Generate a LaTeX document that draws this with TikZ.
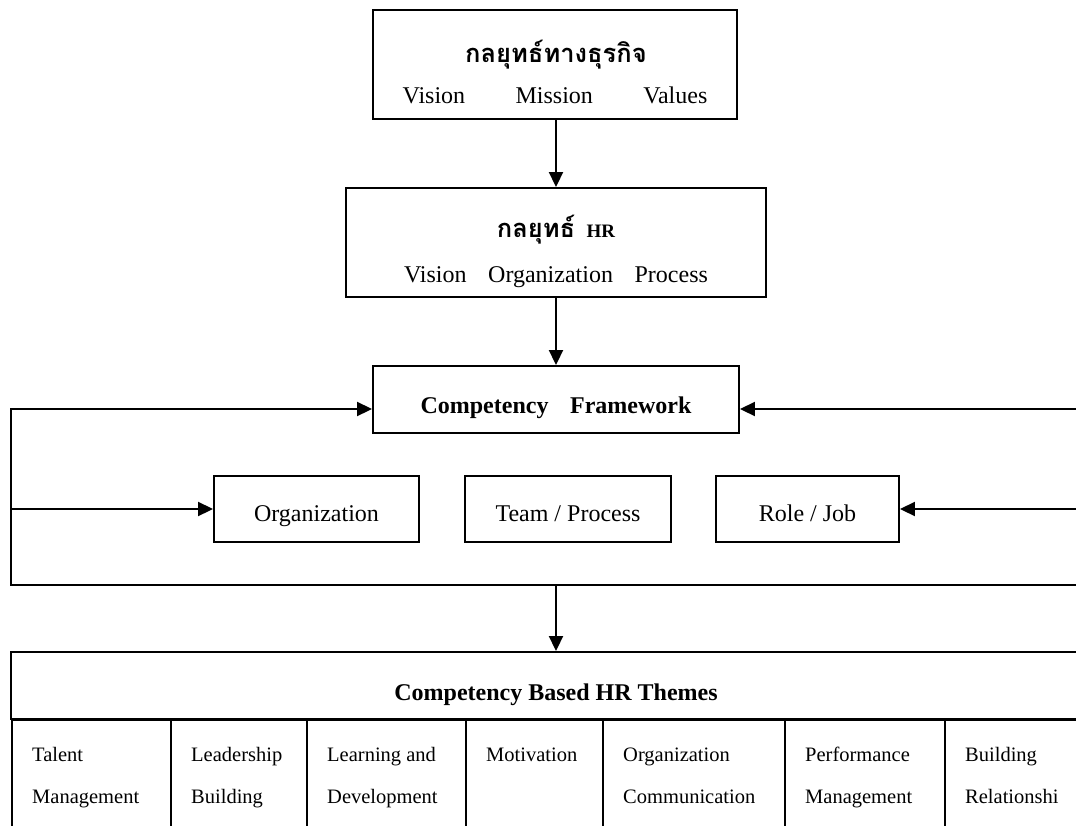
\documentclass[tikz,border=0pt]{standalone}
\usepackage{fontspec}
\setmainfont{Liberation Serif}
\newfontfamily\thaifont[Script=Thai]{Loma}
\usetikzlibrary{arrows.meta}

\begin{document}
\begin{tikzpicture}[x=1pt,y=-1pt,
  box/.style={draw, rectangle, inner sep=0pt, line width=1.9pt},
  arr/.style={-{Triangle[length=15pt,width=14pt]}, line width=1.9pt},
  txt/.style={inner sep=0pt, anchor=base, font=\fontsize{24}{28}\selectfont},
  boldtxt/.style={inner sep=0pt, anchor=base, font=\fontsize{24}{28}\selectfont\bfseries},
  thai/.style={inner sep=0pt, anchor=base, font=\thaifont\bfseries\fontsize{25.5}{30}\selectfont},
  celltxt/.style={inner sep=0pt, anchor=base west, font=\fontsize{20.5}{24}\selectfont}]
\useasboundingbox (0,0) rectangle (1076,825);
\clip (0,0) rectangle (1076,825);

% strategy boxes
\node[box, minimum width=364pt, minimum height=109pt] (biz) at (555,64.5) {};
\node[thai] (bizT) at (556,62) {กลยุทธ์ทางธุรกิจ};
\node[txt] (bizS) at (555,103) {Vision\hspace{2.1em}Mission\hspace{2.1em}Values};

\node[box, minimum width=420pt, minimum height=109pt] (hr) at (556,242.5) {};
\node[thai] (hrT) at (556,237) {กลยุทธ์\hspace{0.45em}{\rmfamily\bfseries\fontsize{19}{22}\selectfont HR}};
\node[txt] (hrS) at (556,282) {Vision\hspace{0.9em}Organization\hspace{0.9em}Process};

% competency framework and its three levels
\node[box, minimum width=366pt, minimum height=67pt] (cf) at (556,399.5) {};
\node[boldtxt] (cfT) at (556,413) {Competency\hspace{0.9em}Framework};

\node[box, minimum width=205pt, minimum height=66pt] (org) at (316.5,509) {};
\node[txt] (orgT) at (316.5,521) {Organization};
\node[box, minimum width=206pt, minimum height=66pt] (team) at (568,509) {};
\node[txt] (teamT) at (568,521) {Team / Process};
\node[box, minimum width=183pt, minimum height=66pt] (role) at (807.5,509) {};
\node[txt] (roleT) at (807.5,521) {Role / Job};

% HR themes table
\node[box, minimum width=1088pt, minimum height=67pt] (themes) at (555,685.5) {};
\node[boldtxt] (themesT) at (556,700) {Competency Based HR Themes};

\foreach \i/\xa/\xb/\la/\lb in {
  1/11/170/Talent/Management,
  2/170/306/Leadership/Building,
  3/306/465/Learning and/Development,
  4/465/602/Motivation/,
  5/602/784/Organization/Communication,
  6/784/944/Performance/Management,
  7/944/1099/Building/Relationshi}{
  \node[box, anchor=north west, minimum width={\xb-\xa}, minimum height=121pt] (cell\i) at (\xa,719) {};
  \node[celltxt] (cell\i a) at (\xa+21,761) {\la};
  \node[celltxt] (cell\i b) at (\xa+21,803) {\lb};
}

% connectors
\coordinate (lt) at (11,409);
\coordinate (lb) at (11,585);
\coordinate (rt) at (1090,409);
\coordinate (rb) at (1090,585);
\coordinate (drop) at (556,585);

\draw[arr] (biz.south -| hr.north) -- (hr.north);
\draw[arr] (hr.south) -- (hr.south |- cf.north);
\draw[arr] (rb) -- (lb) -- (lt) -- (lt -| cf.west);
\draw[arr] (rt) -- (rt -| cf.east);
\draw[arr] (lt |- org.west) -- (org.west);
\draw[arr] (rt |- role.east) -- (role.east);
\draw[arr] (drop) -- (drop |- themes.north);
\end{tikzpicture}
\end{document}
